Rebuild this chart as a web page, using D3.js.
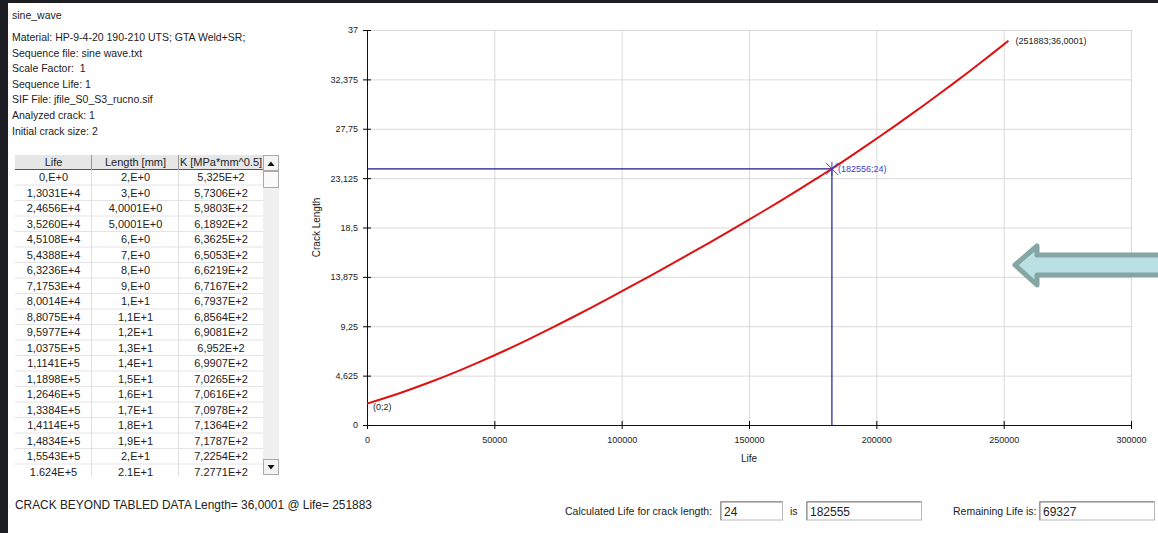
<!DOCTYPE html>
<html>
<head>
<meta charset="utf-8">
<script src="https://cdn.jsdelivr.net/npm/d3@7"></script>
<style>
  body { margin: 0; background: #1c1e24; }
  text { font-family: "Liberation Sans", Arial, sans-serif; fill: #222; white-space: pre; }
</style>
</head>
<body>
<div id="chart"></div>
<script>
// header info lines
var infoLines = [
  "Material: HP-9-4-20 190-210 UTS; GTA Weld+SR;",
  "Sequence file: sine wave.txt",
  "Scale Factor:  1",
  "Sequence Life: 1",
  "SIF File: jfile_S0_S3_rucno.sif",
  "Analyzed crack: 1",
  "Initial crack size: 2"
];

// table columns (as displayed)
var tableHeaders = ["Life", "Length [mm]", "K [MPa*mm^0.5]"];
var tableLife = ["0,E+0", "1,3031E+4", "2,4656E+4", "3,5260E+4", "4,5108E+4", "5,4388E+4", "6,3236E+4",
  "7,1753E+4", "8,0014E+4", "8,8075E+4", "9,5977E+4", "1,0375E+5", "1,1141E+5", "1,1898E+5",
  "1,2646E+5", "1,3384E+5", "1,4114E+5", "1,4834E+5", "1,5543E+5", "1,624E+5"];
var tableLength = ["2,E+0", "3,E+0", "4,0001E+0", "5,0001E+0", "6,E+0", "7,E+0", "8,E+0", "9,E+0",
  "1,E+1", "1,1E+1", "1,2E+1", "1,3E+1", "1,4E+1", "1,5E+1", "1,6E+1", "1,7E+1", "1,8E+1",
  "1,9E+1", "2,E+1", "2,1E+1"];
var tableK = ["5,325E+2", "5,7306E+2", "5,9803E+2", "6,1892E+2", "6,3625E+2", "6,5053E+2", "6,6219E+2",
  "6,7167E+2", "6,7937E+2", "6,8564E+2", "6,9081E+2", "6,952E+2", "6,9907E+2", "7,0265E+2",
  "7,0616E+2", "7,0978E+2", "7,1364E+2", "7,1787E+2", "7,2254E+2", "7,2771E+2"];

// crack growth curve
var curveLife = [0, 13031, 24656, 35260, 45108, 54388, 63236, 71753, 80014, 88075, 95977, 103750,
  111410, 118980, 126460, 133840, 141140, 148340, 155430, 162400, 169250, 175950, 182556, 188856,
  195061, 201171, 207186, 213106, 218931, 224661, 230296, 235836, 241281, 246631, 251883];
var curveLength = [2, 3, 4.0001, 5.0001, 6, 7, 8, 9, 10, 11, 12, 13, 14, 15, 16, 17, 18, 19, 20, 21,
  22, 23, 24, 25, 26, 27, 28, 29, 30, 31, 32, 33, 34, 35, 36.0001];

var xTicks = [0, 50000, 100000, 150000, 200000, 250000, 300000];
var yTicks = [0, 4.625, 9.25, 13.875, 18.5, 23.125, 27.75, 32.375, 37];

// query point and results
var queryLength = 24, queryLife = 182556;
var calcLife = 182555, remainingLife = 69327;

var W = 1158, H = 533;
var plot = { left: 367, right: 1131, top: 30, bottom: 425 };

var svg = d3.select("#chart").append("svg").attr("width", W).attr("height", H);
svg.append("rect").attr("x", 8).attr("y", 3).attr("width", W - 8).attr("height", H - 3).attr("fill", "#fff");

// title + info
svg.append("text").attr("x", 12).attr("y", 19).style("font-size", "10.5px").text("sine_wave");
svg.selectAll(".info").data(infoLines).enter().append("text")
  .attr("x", 12).attr("y", (d, i) => 41 + i * 15.6)
  .style("font-size", "10.5px").text(d => d);

// table
var tbl = svg.append("g");
var colX = [15, 92, 179, 263];
var rowH = 15.5, headTop = 155, headH = 14.5;
tbl.append("defs").append("clipPath").attr("id", "tclip")
  .append("rect").attr("x", 15).attr("y", headTop).attr("width", 264).attr("height", 321);
var tg = tbl.append("g").attr("clip-path", "url(#tclip)");
tg.append("rect").attr("x", colX[0]).attr("y", headTop).attr("width", colX[3] - colX[0]).attr("height", headH)
  .attr("fill", "#e6e6e6");
tg.append("line").attr("x1", colX[0]).attr("x2", colX[3]).attr("y1", headTop + headH).attr("y2", headTop + headH)
  .attr("stroke", "#555");
tableHeaders.forEach((h, i) => {
  tg.append("text").attr("x", (colX[i] + colX[i + 1]) / 2).attr("y", headTop + 11)
    .attr("text-anchor", "middle").style("font-size", "11px").text(h);
  if (i > 0) tg.append("line").attr("x1", colX[i] - 0.5).attr("x2", colX[i] - 0.5)
    .attr("y1", headTop).attr("y2", headTop + headH).attr("stroke", "#999");
});
var cols = [tableLife, tableLength, tableK];
tableLife.forEach((d, r) => {
  var y0 = headTop + headH + r * rowH;
  tg.append("line").attr("x1", colX[0]).attr("x2", colX[3]).attr("y1", y0 + rowH).attr("y2", y0 + rowH)
    .attr("stroke", "#e4e4e4");
  cols.forEach((c, i) => {
    tg.append("text").attr("x", (colX[i] + colX[i + 1]) / 2).attr("y", y0 + 11.5)
      .attr("text-anchor", "middle").style("font-size", "11px").text(c[r]);
  });
});
[1, 2].forEach(i => tg.append("line").attr("x1", colX[i] - 0.5).attr("x2", colX[i] - 0.5)
  .attr("y1", headTop + headH).attr("y2", 476).attr("stroke", "#e0e0e0"));
// scrollbar
var sb = tbl.append("g");
sb.append("rect").attr("x", 263).attr("y", headTop).attr("width", 16).attr("height", 320).attr("fill", "#f0f0f0");
sb.append("rect").attr("x", 263.5).attr("y", headTop + 0.5).attr("width", 15).attr("height", 15)
  .attr("fill", "#f4f4f4").attr("stroke", "#aaa");
sb.append("path").attr("d", "M267.5,166 L271,161.5 L274.5,166 Z").attr("fill", "#111");
sb.append("rect").attr("x", 263.5).attr("y", 171.5).attr("width", 15).attr("height", 16)
  .attr("fill", "#fafafa").attr("stroke", "#aaa");
sb.append("rect").attr("x", 263.5).attr("y", 459.5).attr("width", 15).attr("height", 15)
  .attr("fill", "#f4f4f4").attr("stroke", "#aaa");
sb.append("path").attr("d", "M267.5,465 L271,469.5 L274.5,465 Z").attr("fill", "#111");

// scales
var x = d3.scaleLinear().domain([0, 300000]).range([plot.left, plot.right]);
var y = d3.scaleLinear().domain([0, 37]).range([plot.bottom, plot.top]);
var fmt = d => String(d).replace(".", ",");

// grid
svg.append("g").attr("transform", "translate(0," + plot.bottom + ")")
  .call(d3.axisBottom(x).tickValues(xTicks).tickSize(-(plot.bottom - plot.top)).tickFormat(""))
  .call(g => g.select(".domain").remove())
  .selectAll("line").attr("stroke", "#d9d9d9");
svg.append("g").attr("transform", "translate(" + plot.left + ",0)")
  .call(d3.axisLeft(y).tickValues(yTicks).tickSize(-(plot.right - plot.left)).tickFormat(""))
  .call(g => g.select(".domain").remove())
  .selectAll("line").attr("stroke", "#d9d9d9");

// axes
var xAxis = svg.append("g").attr("transform", "translate(0," + plot.bottom + ")")
  .call(d3.axisBottom(x).tickValues(xTicks).tickSizeInner(4).tickSizeOuter(0).tickPadding(8).tickFormat(d => d));
xAxis.selectAll(".tick line").attr("y1", -4);
var yAxis = svg.append("g").attr("transform", "translate(" + plot.left + ",0)")
  .call(d3.axisLeft(y).tickValues(yTicks).tickSizeInner(4).tickSizeOuter(0).tickPadding(5).tickFormat(fmt));
yAxis.selectAll(".tick line").attr("x1", 4);
[xAxis, yAxis].forEach(a => {
  a.select(".domain").attr("stroke", "#111");
  a.selectAll("text").style("font-family", "Liberation Sans, Arial, sans-serif").style("font-size", "9px").attr("fill", "#222");
});

svg.append("text").attr("x", (plot.left + plot.right) / 2).attr("y", 462)
  .attr("text-anchor", "middle").style("font-size", "10px").text("Life");
svg.append("text").attr("transform", "translate(320," + (plot.top + plot.bottom) / 2 + ") rotate(-90)")
  .attr("text-anchor", "middle").style("font-size", "10px").text("Crack Length");

// query crosshair
var qx = x(queryLife), qy = y(queryLength);
svg.append("line").attr("x1", x(0)).attr("x2", qx).attr("y1", qy).attr("y2", qy)
  .attr("stroke", "#1a1a8c").attr("stroke-width", 1.2);
svg.append("line").attr("x1", qx).attr("x2", qx).attr("y1", qy).attr("y2", y(0))
  .attr("stroke", "#1a1a8c").attr("stroke-width", 1.2);

// curve
var pts = curveLife.map((l, i) => [l, curveLength[i]]);
svg.append("path").datum(pts)
  .attr("fill", "none").attr("stroke", "#e01010").attr("stroke-width", 2)
  .attr("d", d3.line().x(d => x(d[0])).y(d => y(d[1])).curve(d3.curveMonotoneX));

// marker
svg.append("path")
  .attr("d", `M${qx - 6},${qy - 6}L${qx + 6},${qy + 6}M${qx - 6},${qy + 6}L${qx + 6},${qy - 6}M${qx},${qy - 7}L${qx},${qy + 7}`)
  .attr("stroke", "#3a3acc").attr("stroke-width", 1);
svg.append("text").attr("x", qx + 6).attr("y", qy + 3).style("font-size", "9px")
  .style("fill", "#3a3acc").text("(" + queryLife + ";" + queryLength + ")");

// end labels
var first = pts[0], last = pts[pts.length - 1];
svg.append("text").attr("x", x(first[0]) + 6).attr("y", y(first[1]) + 6).style("font-size", "9px")
  .text("(" + first[0] + ";" + fmt(first[1]) + ")");
svg.append("text").attr("x", x(last[0]) + 7).attr("y", y(last[1]) + 3).style("font-size", "9px")
  .text("(" + last[0] + ";" + fmt(last[1]) + ")");

// arrow
svg.append("path")
  .attr("d", "M1015,265 L1037,246 L1037,255 L1165,255 L1165,275 L1037,275 L1037,285 Z")
  .attr("fill", "#b9e0e2").attr("stroke", "#86a6a6").attr("stroke-width", 5).attr("stroke-linejoin", "round");

// bottom status
svg.append("text").attr("x", 15).attr("y", 509).style("font-size", "11.9px")
  .text("CRACK BEYOND TABLED DATA Length= " + fmt(last[1]) + " @ Life= " + last[0]);

function box(x0, x1, val) {
  svg.append("rect").attr("x", x0 + 0.5).attr("y", 501.5).attr("width", x1 - x0).attr("height", 18.5)
    .attr("fill", "#fff").attr("stroke", "#b8b8b8");
  svg.append("path").attr("d", `M${x0 + 1},520 L${x0 + 1},502 L${x1},502`).attr("fill", "none")
    .attr("stroke", "#808080").attr("stroke-width", 1);
  svg.append("text").attr("x", x0 + 4).attr("y", 516).style("font-size", "12px").text(val);
}
svg.append("text").attr("x", 565).attr("y", 515).style("font-size", "10.5px").text("Calculated Life for crack length:");
box(720, 782, queryLength);
svg.append("text").attr("x", 790).attr("y", 515).style("font-size", "10.5px").text("is");
box(806, 921, calcLife);
svg.append("text").attr("x", 953).attr("y", 515).style("font-size", "10.5px").text("Remaining Life is:");
box(1039, 1154, remainingLife);
</script>
</body>
</html>
